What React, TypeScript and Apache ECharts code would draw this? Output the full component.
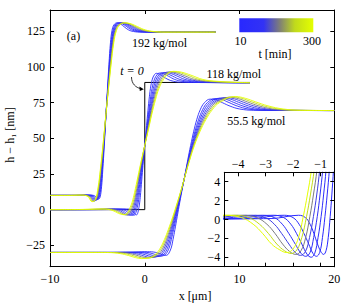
import React, { useEffect, useRef } from 'react';
import * as echarts from 'echarts';

// times of the snapshots (min)
const T_MIN = [10, 25, 45, 75, 115, 165, 230, 300];

// 192 kg/mol profiles [x (µm), h - h1 (nm)]
const H192_T10 = [[-10,10],[-6.48,10],[-5.58,10.2],[-5.18,9.2],[-4.93,7.3],[-4.73,8.5],[-4.56,16],[-4.43,28],[-4.28,44],[-4.13,62],[-3.96,82],[-3.78,102],[-3.62,117],[-3.46,125.5],[-3.26,129.5],[-2.93,131],[-2.58,130.3],[-2.18,128.3],[-1.73,126.1],[-1.18,124.9],[-0.28,124.5],[7.5,124.5]];
const H192_T25 = [[-10,10],[-6.83,10],[-5.8,10.2],[-5.34,9.2],[-5.05,7.0],[-4.82,8.3],[-4.63,16],[-4.48,28],[-4.31,44],[-4.14,62],[-3.94,82],[-3.74,102],[-3.55,117],[-3.37,125.5],[-3.14,129.5],[-2.76,131],[-2.36,130.3],[-1.9,128.3],[-1.39,126.1],[-0.76,124.9],[0.27,124.5],[7.5,124.5]];
const H192_T45 = [[-10,10],[-7.09,10],[-5.96,10.2],[-5.46,9.2],[-5.15,6.8],[-4.9,8.1],[-4.68,16],[-4.52,28],[-4.33,44],[-4.14,62],[-3.93,82],[-3.7,102],[-3.5,117],[-3.3,125.5],[-3.05,129.5],[-2.64,131],[-2.2,130.3],[-1.7,128.3],[-1.13,126.1],[-0.44,124.9],[0.69,124.5],[7.5,124.5]];
const H192_T75 = [[-10,10],[-7.36,10],[-6.13,10.2],[-5.58,9.2],[-5.24,6.5],[-4.97,7.9],[-4.74,16],[-4.56,28],[-4.35,44],[-4.15,62],[-3.92,82],[-3.67,102],[-3.45,117],[-3.23,125.5],[-2.96,129.5],[-2.51,131],[-2.03,130.3],[-1.49,128.3],[-0.87,126.1],[-0.12,124.9],[1.11,124.5],[7.5,124.5]];
const H192_T115 = [[-10,10],[-7.61,10],[-6.29,10.2],[-5.7,9.2],[-5.33,6.2],[-5.04,7.7],[-4.79,16],[-4.59,28],[-4.37,44],[-4.15,62],[-3.9,82],[-3.64,102],[-3.4,117],[-3.17,125.5],[-2.87,129.5],[-2.39,131],[-1.87,130.3],[-1.29,128.3],[-0.63,126.1],[0.18,124.9],[1.51,124.5],[7.5,124.5]];
const H192_T165 = [[-10,10],[-7.85,10],[-6.44,10.2],[-5.81,9.2],[-5.41,6.0],[-5.1,7.5],[-4.83,16],[-4.63,28],[-4.39,44],[-4.16,62],[-3.89,82],[-3.61,102],[-3.36,117],[-3.11,125.5],[-2.79,129.5],[-2.27,131],[-1.72,130.3],[-1.1,128.3],[-0.39,126.1],[0.47,124.9],[1.89,124.5],[7.5,124.5]];
const H192_T230 = [[-10,10],[-8.08,10],[-6.58,10.2],[-5.91,9.2],[-5.5,5.8],[-5.16,7.3],[-4.88,16],[-4.66,28],[-4.41,44],[-4.16,62],[-3.88,82],[-3.58,102],[-3.31,117],[-3.05,125.5],[-2.71,129.5],[-2.17,131],[-1.58,130.3],[-0.92,128.3],[-0.17,126.1],[0.75,124.9],[2.25,124.5],[7.5,124.5]];
const H192_T300 = [[-10,10],[-8.28,10],[-6.71,10.2],[-6.01,9.2],[-5.57,5.6],[-5.22,7.1],[-4.92,16],[-4.69,28],[-4.43,44],[-4.17,62],[-3.87,82],[-3.55,102],[-3.27,117],[-2.99,125.5],[-2.64,129.5],[-2.07,131],[-1.45,130.3],[-0.75,128.3],[0.03,126.1],[1.0,124.9],[2.57,124.5],[7.5,124.5]];

// 118 kg/mol profiles
const H118_T10 = [[-10,0],[-2.8,0.1],[-1.8,0.45],[-1.55,0.2],[-1.38,-0.5],[-1.24,-1.5],[-1.11,-2.6],[-0.99,-3.4],[-0.89,-3.7],[-0.8,-3.3],[-0.72,-1.9],[-0.65,0.3],[-0.59,2.6],[-0.53,5.3],[-0.43,12],[-0.29,23],[-0.15,34],[0,45],[0.15,56],[0.3,67],[0.45,77],[0.6,85],[0.8,91.5],[1.0,94.4],[1.22,95.6],[1.55,95.0],[1.95,93.3],[2.45,91.3],[3.05,90],[3.9,89.3],[11.1,89]];
const H118_T25 = [[-10,0],[-3.61,0.1],[-2.32,0.45],[-2.0,0.2],[-1.78,-0.5],[-1.6,-1.5],[-1.43,-2.6],[-1.28,-3.58],[-1.15,-3.9],[-1.03,-3.48],[-0.93,-1.9],[-0.84,0.3],[-0.76,2.6],[-0.68,5.3],[-0.55,12],[-0.37,23],[-0.19,34],[0,45],[0.19,56],[0.39,67],[0.58,77],[0.77,85],[1.03,91.5],[1.29,94.6],[1.57,95.8],[2.0,95.2],[2.52,93.5],[3.16,91.3],[3.93,90],[5.03,89.3],[11.1,89]];
const H118_T45 = [[-10,0],[-4.23,0.1],[-2.72,0.45],[-2.34,0.2],[-2.08,-0.5],[-1.87,-1.5],[-1.68,-2.6],[-1.49,-3.68],[-1.34,-4.0],[-1.21,-3.57],[-1.09,-1.9],[-0.98,0.3],[-0.89,2.6],[-0.8,5.3],[-0.65,12],[-0.44,23],[-0.23,34],[0,45],[0.23,56],[0.45,67],[0.68,77],[0.91,85],[1.21,91.5],[1.51,94.7],[1.84,96.0],[2.34,95.4],[2.94,93.6],[3.7,91.3],[4.61,90],[5.89,89.3],[11.1,89]];
const H118_T75 = [[-10,0],[-4.84,0.1],[-3.11,0.45],[-2.68,0.2],[-2.39,-0.5],[-2.15,-1.5],[-1.92,-2.6],[-1.71,-3.58],[-1.54,-3.9],[-1.38,-3.48],[-1.25,-1.9],[-1.12,0.3],[-1.02,2.6],[-0.92,5.3],[-0.74,12],[-0.5,23],[-0.26,34],[0,45],[0.26,56],[0.52,67],[0.78,77],[1.04,85],[1.38,91.5],[1.73,94.9],[2.11,96.2],[2.68,95.6],[3.37,93.8],[4.24,91.3],[5.28,90],[6.75,89.3],[11.1,89]];
const H118_T115 = [[-10,0],[-5.43,0.1],[-3.49,0.45],[-3.01,0.2],[-2.68,-0.5],[-2.41,-1.5],[-2.15,-2.6],[-1.92,-3.49],[-1.73,-3.8],[-1.55,-3.39],[-1.4,-1.9],[-1.26,0.3],[-1.14,2.6],[-1.03,5.3],[-0.83,12],[-0.56,23],[-0.29,34],[0,45],[0.29,56],[0.58,67],[0.87,77],[1.16,85],[1.55,91.5],[1.94,95.0],[2.37,96.4],[3.01,95.8],[3.78,93.9],[4.75,91.3],[5.92,90],[7.57,89.3],[11.1,89]];
const H118_T165 = [[-10,0],[-5.99,0.1],[-3.85,0.45],[-3.32,0.2],[-2.95,-0.5],[-2.65,-1.5],[-2.38,-2.6],[-2.12,-3.4],[-1.9,-3.7],[-1.71,-3.3],[-1.54,-1.9],[-1.39,0.3],[-1.26,2.6],[-1.13,5.3],[-0.92,12],[-0.62,23],[-0.32,34],[0,45],[0.32,56],[0.64,67],[0.96,77],[1.28,85],[1.71,91.5],[2.14,95.1],[2.61,96.6],[3.32,96.0],[4.17,94.0],[5.24,91.3],[6.53,90],[8.35,89.3],[11.1,89]];
const H118_T230 = [[-10,0],[-6.52,0.1],[-4.19,0.45],[-3.61,0.2],[-3.22,-0.5],[-2.89,-1.5],[-2.59,-2.6],[-2.31,-3.31],[-2.07,-3.6],[-1.86,-3.21],[-1.68,-1.9],[-1.51,0.3],[-1.37,2.6],[-1.23,5.3],[-1.0,12],[-0.68,23],[-0.35,34],[0,45],[0.35,56],[0.7,67],[1.05,77],[1.4,85],[1.86,91.5],[2.33,95.3],[2.84,96.8],[3.61,96.2],[4.54,94.2],[5.71,91.3],[7.11,90],[9.09,89.3],[11.1,89]];
const H118_T300 = [[-10,0],[-7.0,0.1],[-4.5,0.45],[-3.88,0.2],[-3.45,-0.5],[-3.1,-1.5],[-2.78,-2.6],[-2.48,-3.22],[-2.23,-3.5],[-2.0,-3.12],[-1.8,-1.9],[-1.63,0.3],[-1.48,2.6],[-1.33,5.3],[-1.08,12],[-0.73,23],[-0.38,34],[0,45],[0.38,56],[0.75,67],[1.13,77],[1.5,85],[2.0,91.5],[2.5,95.4],[3.05,97.0],[3.88,96.4],[4.88,94.3],[6.13,91.3],[7.63,90],[9.75,89.3],[11.1,89]];

// 55.5 kg/mol profiles
const H55_T10 = [[-10,-30],[-3,-30],[-1,-29.8],[0.3,-29.5],[1.1,-29.9],[1.7,-31.2],[2.2,-32.1],[2.36,-31.8],[2.5,-31],[2.78,-27],[2.98,-21],[3.18,-14],[3.42,-5],[3.69,5],[3.97,15],[4.26,25],[4.54,35],[4.84,45],[5.17,55],[5.48,63],[5.85,70],[6.3,75],[6.9,77.5],[7.5,77.1],[8.2,75],[9.0,72.6],[10.0,70.6],[11.5,69.7],[20,69.5]];
const H55_T25 = [[-10,-30],[-3.39,-30],[-1.52,-29.86],[-0.26,-29.75],[0.56,-30.34],[1.18,-31.66],[1.71,-32.52],[1.99,-32.19],[2.24,-31],[2.56,-27],[2.8,-21],[3.04,-14],[3.33,-5],[3.64,5],[3.95,15],[4.27,25],[4.58,35],[4.92,45],[5.3,55],[5.67,63],[6.1,70],[6.6,75],[7.42,77.85],[8.1,77.29],[8.88,75.12],[9.77,72.64],[10.89,70.6],[12.47,69.7],[20,69.5]];
const H55_T45 = [[-10,-30],[-3.68,-30],[-1.92,-29.9],[-0.69,-29.94],[0.15,-30.68],[0.78,-32.02],[1.33,-32.85],[1.71,-32.48],[2.05,-31],[2.39,-27],[2.67,-21],[2.94,-14],[3.26,-5],[3.6,5],[3.94,15],[4.28,25],[4.61,35],[4.98,45],[5.4,55],[5.81,63],[6.28,70],[6.84,75],[7.82,78.11],[8.55,77.44],[9.39,75.2],[10.36,72.67],[11.56,70.6],[13.2,69.7],[20,69.5]];
const H55_T75 = [[-10,-30],[-3.97,-30],[-2.31,-29.95],[-1.11,-30.13],[-0.26,-31.02],[0.39,-32.37],[0.96,-33.17],[1.43,-32.77],[1.85,-31],[2.22,-27],[2.54,-21],[2.84,-14],[3.19,-5],[3.56,5],[3.93,15],[4.28,25],[4.64,35],[5.03,45],[5.5,55],[5.95,63],[6.47,70],[7.07,75],[8.21,78.38],[9.01,77.59],[9.9,75.29],[10.95,72.7],[12.24,70.6],[13.94,69.7],[20,69.5]];
const H55_T115 = [[-10,-30],[-4.25,-30],[-2.69,-29.99],[-1.52,-30.32],[-0.66,-31.34],[0.01,-32.7],[0.6,-33.48],[1.16,-33.05],[1.67,-31],[2.06,-27],[2.41,-21],[2.74,-14],[3.13,-5],[3.53,5],[3.92,15],[4.29,25],[4.67,35],[5.09,45],[5.59,55],[6.08,63],[6.65,70],[7.29,75],[8.59,78.63],[9.44,77.73],[10.39,75.38],[11.51,72.73],[12.88,70.6],[14.64,69.7],[20,69.5]];
const H55_T165 = [[-10,-30],[-4.52,-30],[-3.05,-30.03],[-1.9,-30.49],[-1.03,-31.65],[-0.35,-33.02],[0.26,-33.77],[0.91,-33.32],[1.49,-31],[1.91,-27],[2.29,-21],[2.65,-14],[3.06,-5],[3.49,5],[3.91,15],[4.3,25],[4.7,35],[5.14,45],[5.68,55],[6.21,63],[6.82,70],[7.5,75],[8.95,78.87],[9.86,77.86],[10.86,75.46],[12.04,72.75],[13.5,70.6],[15.3,69.7],[20,69.5]];
const H55_T230 = [[-10,-30],[-4.77,-30],[-3.39,-30.07],[-2.27,-30.65],[-1.38,-31.94],[-0.69,-33.33],[-0.06,-34.05],[0.67,-33.57],[1.32,-31],[1.76,-27],[2.17,-21],[2.56,-14],[3.0,-5],[3.46,5],[3.9,15],[4.3,25],[4.73,35],[5.19,45],[5.76,55],[6.33,63],[6.98,70],[7.7,75],[9.29,79.1],[10.25,77.99],[11.3,75.53],[12.55,72.78],[14.08,70.6],[15.94,69.7],[20,69.5]];
const H55_T300 = [[-10,-30],[-5,-30],[-3.7,-30.1],[-2.6,-30.8],[-1.7,-32.2],[-1.0,-33.6],[-0.35,-34.3],[0.45,-33.8],[1.17,-31],[1.63,-27],[2.07,-21],[2.48,-14],[2.95,-5],[3.43,5],[3.89,15],[4.31,25],[4.75,35],[5.24,45],[5.84,55],[6.44,63],[7.12,70],[7.88,75],[9.6,79.3],[10.6,78.1],[11.7,75.6],[13.0,72.8],[14.6,70.6],[16.5,69.7],[20,69.5]];

// initial (t = 0) step of the 118 kg/mol sample
const T0_STEP_118 = [[-10,0],[0,0],[0,89.2],[11.1,89.2]];

const FAMILY_192 = [H192_T10, H192_T25, H192_T45, H192_T75, H192_T115, H192_T165, H192_T230, H192_T300];
const FAMILY_118 = [H118_T10, H118_T25, H118_T45, H118_T75, H118_T115, H118_T165, H118_T230, H118_T300];
const FAMILY_55 = [H55_T10, H55_T25, H55_T45, H55_T75, H55_T115, H55_T165, H55_T230, H55_T300];

const MAIN_Y_TICKS = [-25, 0, 25, 50, 75, 100, 125];
const INSET_X_TICKS = [-4, -3, -2, -1];
const INSET_Y_TICKS = [-4, -2, 0, 2, 4];
const CBAR_LABELS = ['10', '300'];

const FONT = 'Liberation Serif';
const STOPS: [number, number[]][] = [
  [0, [40, 40, 255]],
  [0.33, [50, 50, 245]],
  [0.55, [128, 128, 118]],
  [0.75, [192, 218, 28]],
  [1, [228, 255, 0]],
];
function gradColor(f: number) {
  for (let i = 1; i < STOPS.length; i++) {
    if (f <= STOPS[i][0]) {
      const [f0, c0] = STOPS[i - 1];
      const [f1, c1] = STOPS[i];
      const u = (f - f0) / (f1 - f0);
      const c = c0.map((v, k) => Math.round(v + (c1[k] - v) * u));
      return `rgb(${c[0]},${c[1]},${c[2]})`;
    }
  }
  const c = STOPS[STOPS.length - 1][1];
  return `rgb(${c[0]},${c[1]},${c[2]})`;
}
const tColor = (t: number) => gradColor((t - 10) / 290);
const fmt = (v: number) => (v < 0 ? '\u2212' + Math.abs(v) : String(v));

export default function App() {
  const ref = useRef<HTMLDivElement>(null);
  useEffect(() => {
    document.body.style.margin = '0';
    const chart = echarts.init(ref.current!, null, { renderer: 'svg' });
    const axLine = { show: true, onZero: false, lineStyle: { color: '#000', width: 1 } };
    const tick = { inside: true, length: 4, lineStyle: { color: '#000', width: 1 } };
    const lbl = { fontFamily: FONT, fontSize: 12, color: '#000', formatter: fmt };

    const series: any[] = [];
    series.push({
      type: 'line', data: T0_STEP_118, xAxisIndex: 0, yAxisIndex: 0, symbol: 'none',
      lineStyle: { color: '#000', width: 1 }, z: 2, silent: true,
    });
    const fams = [FAMILY_192, FAMILY_118, FAMILY_55];
    T_MIN.forEach((t, i) => {
      fams.forEach((fam) => {
        series.push({
          type: 'line', data: fam[i], xAxisIndex: 0, yAxisIndex: 0, symbol: 'none', smooth: 0.4,
          lineStyle: { color: tColor(t), width: 0.9 }, z: 2, silent: true,
        });
      });
    });
    T_MIN.forEach((t, i) => {
      series.push({
        type: 'line', data: FAMILY_118[i], xAxisIndex: 2, yAxisIndex: 2, symbol: 'none', smooth: 0.4,
        lineStyle: { color: tColor(t), width: 1 }, z: 4, silent: true, clip: true,
      });
    });

    const cbarStops = STOPS.map(([f, c]) => ({ offset: f, color: `rgb(${c[0]},${c[1]},${c[2]})` }));
    const txt = (text: string, x: number, y: number, extra: any = {}) => ({
      type: 'text', x, y, z: 10,
      style: { text, fontFamily: FONT, fontSize: 12, fill: '#000', align: 'center', verticalAlign: 'middle', ...extra },
    });

    chart.setOption({
      animation: false,
      grid: [
        { left: 50, top: 10, width: 284.3, height: 256.7 },
        { left: 224.3, top: 172.3, width: 110, height: 94.4, show: true, backgroundColor: '#fff', borderWidth: 0, z: 3 },
      ],
      xAxis: [
        { gridIndex: 0, type: 'value', min: -10, max: 20, interval: 10, position: 'bottom', axisLine: axLine, axisTick: tick, splitLine: { show: false }, axisLabel: { ...lbl, margin: 6, showMinLabel: true, showMaxLabel: true } },
        { gridIndex: 0, type: 'value', min: -10, max: 20, interval: 10, position: 'top', axisLine: axLine, axisTick: tick, splitLine: { show: false }, axisLabel: { show: false } },
        { gridIndex: 1, type: 'value', min: -4.5, max: -0.5, position: 'top', z: 5, axisLine: axLine, axisTick: { ...tick, customValues: INSET_X_TICKS }, splitLine: { show: false }, axisLabel: { ...lbl, margin: 2, customValues: INSET_X_TICKS } },
        { gridIndex: 1, type: 'value', min: -4.5, max: -0.5, position: 'bottom', z: 5, axisLine: axLine, axisTick: { ...tick, customValues: INSET_X_TICKS }, splitLine: { show: false }, axisLabel: { show: false } },
      ],
      yAxis: [
        { gridIndex: 0, type: 'value', min: -40, max: 140, position: 'left', axisLine: axLine, axisTick: { ...tick, customValues: MAIN_Y_TICKS }, splitLine: { show: false }, axisLabel: { ...lbl, margin: 5, customValues: MAIN_Y_TICKS } },
        { gridIndex: 0, type: 'value', min: -40, max: 140, position: 'right', axisLine: axLine, axisTick: { ...tick, customValues: MAIN_Y_TICKS }, splitLine: { show: false }, axisLabel: { show: false } },
        { gridIndex: 1, type: 'value', min: -5, max: 5, position: 'left', z: 5, axisLine: axLine, axisTick: { ...tick, customValues: INSET_Y_TICKS }, splitLine: { show: false }, axisLabel: { ...lbl, margin: 4, customValues: INSET_Y_TICKS } },
        { gridIndex: 1, type: 'value', min: -5, max: 5, position: 'right', z: 5, axisLine: axLine, axisTick: { ...tick, customValues: INSET_Y_TICKS }, splitLine: { show: false }, axisLabel: { show: false } },
      ],
      series,
      graphic: [
        txt('(a)', 73.5, 35.5),
        txt('192 kg/mol', 159.5, 43),
        txt('118 kg/mol', 233.7, 74),
        txt('55.5 kg/mol', 256.3, 120.5),
        txt('t = 0', 132, 70.5, { fontStyle: 'italic' }),
        {
          type: 'bezierCurve', z: 10,
          shape: { x1: 131.5, y1: 77, cpx1: 131.5, cpy1: 84, cpx2: 136, cpy2: 87.5, x2: 140.5, y2: 88.6 },
          style: { stroke: '#000', lineWidth: 0.8, fill: 'none' },
        },
        {
          type: 'polygon', z: 10,
          shape: { points: [[143.8, 89.3], [139.4, 86.6], [139.8, 90.9]] },
          style: { fill: '#000' },
        },
        {
          type: 'rect', z: 10,
          shape: { x: 239.3, y: 18.3, width: 74, height: 14 },
          style: { fill: { type: 'linear', x: 0, y: 0, x2: 1, y2: 0, colorStops: cbarStops } },
        },
        txt(CBAR_LABELS[0], 240.5, 40.5),
        txt(CBAR_LABELS[1], 312, 40.5),
        txt('t [min]', 275, 53.5),
        txt('x [\u03bcm]', 195, 295.5),
        { ...txt('h \u2212 h\u2081 [nm]', 10, 135), rotation: Math.PI / 2 },
      ],
    });
    return () => chart.dispose();
  }, []);
  return <div ref={ref} style={{ width: 353, height: 306 }} />;
}
